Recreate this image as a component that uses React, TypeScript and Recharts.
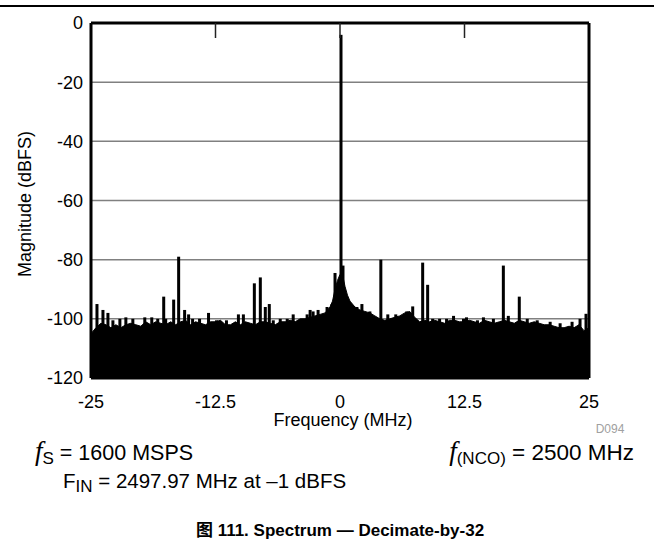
import React from 'react';
import { ComposedChart, Area, Bar, Line, XAxis, YAxis, CartesianGrid } from 'recharts';

// noise floor envelope (top of the black band), MHz / dBFS
const noiseFreq = [
  -25, -24.5, -24, -23.5, -23, -22.5, -22, -21.5, -21, -20.5,
  -20, -19.5, -19, -18.5, -18, -17.5, -17, -16.5, -16, -15.5,
  -15, -14.5, -14, -13.5, -13, -12.5, -12, -11.5, -11, -10.5,
  -10, -9.5, -9, -8.5, -8, -7.5, -7, -6.5, -6, -5.5,
  -5, -4.5, -4, -3.5, -3, -2.5, -2, -1.5, -1, -0.75,
  -0.5, -0.25, 0, 0.25, 0.5, 0.75, 1, 1.5, 2, 2.5,
  3, 3.5, 4, 4.5, 5, 5.5, 6, 6.5, 7, 7.5,
  8, 8.5, 9, 9.5, 10, 10.5, 11, 11.5, 12, 12.5,
  13, 13.5, 14, 14.5, 15, 15.5, 16, 16.5, 17, 17.5,
  18, 18.5, 19, 19.5, 20, 20.5, 21, 21.5, 22, 22.5,
  23, 23.5, 24, 24.5, 25,
];
const noiseLevel = [
  -105, -103, -101.5, -102, -103, -102, -103, -102, -101.5, -102,
  -102.5, -101, -102, -101, -101.5, -102, -101, -102, -101, -100.5,
  -102, -101, -101.5, -102, -101, -101, -100.5, -102, -102, -101,
  -102, -101, -101.5, -102, -101, -101, -101.5, -102, -101, -101,
  -100.5, -101, -100, -100, -99.5, -99, -98.5, -98, -96, -94,
  -90, -87, -85, -85, -89, -92, -94, -96, -97, -97.5,
  -98, -99, -100, -100.5, -100, -99.5, -99, -98, -97.5, -99.5,
  -101, -100.5, -101, -100.5, -101, -101.5, -100.5, -100.5, -101, -101,
  -100.5, -101, -101.5, -100.5, -101, -101.5, -101, -100.5, -101, -101.5,
  -100.5, -101, -101.5, -101, -101.5, -102, -102, -102.5, -103, -103,
  -102.5, -103, -102, -104, -103,
];

// spurs, the fundamental and the spiky top of the floor
const spikeFreq = [
  -24.4, -23.8, -23.3, -22.8, -22.1, -21.5, -20.8, -19.6, -18.9, -18.3,
  -17.7, -17.5, -16.7, -16.2, -15.6, -15.2, -14.8, -14.1, -13.2, -12.4,
  -11.4, -10.2, -9.7, -8.6, -8.0, -7.5, -7.1, -6.7, -6.0, -5.3,
  -4.7, -3.3, -3.0, -2.7, -2.2, -1.3, -0.8, -0.5, 0.1, 0.3,
  1.0, 1.2, 1.7, 2.2, 3.0, 4.1, 4.8, 5.6, 6.7, 7.3,
  8.3, 8.8, 9.3, 10.0, 10.7, 11.4, 12.4, 12.7, 13.8, 14.4,
  15.4, 16.4, 16.9, 18.0, 18.8, 19.8, 21.1, 22.1, 23.3, 24.1,
  24.7,
];
const spikeLevel = [
  -95, -97, -98, -100.5, -100, -99.5, -100, -99.5, -99.5, -100,
  -92.5, -100, -93.5, -79, -97, -98.5, -100, -100, -98, -100.5,
  -100.5, -98.5, -98.5, -88, -86, -96, -95, -100.5, -100, -100,
  -98.5, -98.5, -97, -97.5, -97, -96, -95, -84.5, -4, -82,
  -95.5, -95.5, -96, -95, -97.5, -80, -98.5, -98.5, -97.5, -95.8,
  -81, -88.5, -100, -100, -100, -99, -100, -99.5, -100.5, -99.5,
  -100, -82, -99, -92.5, -100, -100.5, -101, -101.5, -101, -100,
  -98.3,
];

const xTicks = [-25, -12.5, 0, 12.5, 25];
const topTicks = [-12.5, 0, 12.5];
const yTicks = [0, -20, -40, -60, -80, -100, -120];

const FONT = '"Liberation Sans", Arial, Helvetica, sans-serif';

const data = [
  ...noiseFreq.map((f, i) => ({ f, floor: noiseLevel[i] })),
  ...spikeFreq.map((f, i) => ({ f, spike: [-120, spikeLevel[i]] })),
].sort((a, b) => a.f - b.f);

const frame = { stroke: '#000', strokeWidth: 3 };
const tickText = { fill: '#000', fontSize: 18, fontFamily: FONT };

const centered = (x: number, y: number): React.CSSProperties => ({
  position: 'absolute',
  left: x,
  top: y,
  transform: 'translate(-50%, -50%)',
  whiteSpace: 'nowrap',
  lineHeight: 1,
});

// thin spur line centred on the bar's slot
const SpurShape = (p: any) => {
  if (p.height == null || !isFinite(p.height) || p.height <= 0) return <g />;
  return <rect x={p.x + p.width / 2 - 1.5} y={p.y} width={3} height={p.height} fill="#000" />;
};

const sub = { fontSize: 17, verticalAlign: '-4px' };
const italicF = { fontFamily: '"Liberation Serif", serif', fontStyle: 'italic', fontSize: 27 };

export default function App() {
  return (
    <div style={{ position: 'relative', width: 654, height: 557, background: '#fff', fontFamily: FONT, color: '#000' }}>
      <style>{'body{margin:0}'}</style>
      <div style={{ position: 'absolute', left: 0, top: 5, width: 654, borderTop: '2px solid #000' }} />

      <div style={{ position: 'absolute', left: 0, top: 0 }}>
        <ComposedChart width={654} height={440} data={data} margin={{ top: 23, right: 64, bottom: 30, left: 31 }}>
          <CartesianGrid vertical={false} stroke="#808080" strokeWidth={1.5} />
          <XAxis
            dataKey="f"
            type="number"
            domain={[-25, 25]}
            ticks={xTicks}
            interval={0}
            height={32}
            tickLine={false}
            tickSize={0}
            tickMargin={17}
            axisLine={frame}
            tick={tickText}
          />
          <XAxis
            xAxisId="top"
            dataKey="f"
            orientation="top"
            type="number"
            domain={[-25, 25]}
            ticks={topTicks}
            interval={0}
            height={1}
            mirror
            tickSize={15}
            tickFormatter={() => ''}
            tick={{ fontSize: 0 }}
            tickLine={{ stroke: '#222', strokeWidth: 1.5 }}
            axisLine={frame}
          />
          <YAxis
            type="number"
            domain={[-120, 0]}
            ticks={yTicks}
            interval={0}
            width={60}
            tickLine={false}
            tickSize={0}
            tickMargin={8}
            axisLine={frame}
            tick={tickText}
          />
          <YAxis
            yAxisId="right"
            orientation="right"
            type="number"
            domain={[-120, 0]}
            width={1}
            tick={false}
            tickLine={false}
            axisLine={frame}
          />
          <Area
            dataKey="floor"
            type="linear"
            baseValue={-120}
            connectNulls
            fill="#000"
            fillOpacity={1}
            stroke="#000"
            strokeWidth={1}
            dot={false}
            activeDot={false}
            isAnimationActive={false}
          />
          <Bar dataKey="spike" fill="#000" shape={SpurShape} isAnimationActive={false} />
          {/* invisible copy that ties the frame axes (top / right) to the data */}
          <Line
            xAxisId="top"
            yAxisId="right"
            dataKey="floor"
            stroke="none"
            dot={false}
            activeDot={false}
            connectNulls
            isAnimationActive={false}
          />
        </ComposedChart>
      </div>

      <div style={{ ...centered(25, 204), transform: 'translate(-50%, -50%) rotate(-90deg)', fontSize: 18 }}>
        Magnitude (dBFS)
      </div>
      <div style={{ ...centered(343, 420), fontSize: 18 }}>Frequency (MHz)</div>
      <div style={{ ...centered(610, 429), fontSize: 12, color: '#a0a0a0' }}>D094</div>

      <div style={{ position: 'absolute', left: 35, top: 439, fontSize: 21.5, whiteSpace: 'nowrap', lineHeight: '24px' }}>
        <span style={italicF}>f</span>
        <span style={sub}>S</span> = 1600 MSPS
      </div>
      <div style={{ position: 'absolute', right: 20, top: 439, fontSize: 22.5, whiteSpace: 'nowrap', lineHeight: '24px' }}>
        <span style={italicF}>f</span>
        <span style={sub}>(NCO)</span> = 2500 MHz
      </div>
      <div style={{ position: 'absolute', left: 63, top: 469, fontSize: 20.5, whiteSpace: 'nowrap', lineHeight: '24px' }}>
        F<span style={sub}>IN</span> = 2497.97 MHz at –1 dBFS
      </div>

      <div style={{ ...centered(340, 529), fontSize: 17, fontWeight: 'bold' }}>
        <span style={{ fontFamily: '"Noto Sans CJK SC", sans-serif' }}>图</span> 111. Spectrum — Decimate-by-32
      </div>
    </div>
  );
}
